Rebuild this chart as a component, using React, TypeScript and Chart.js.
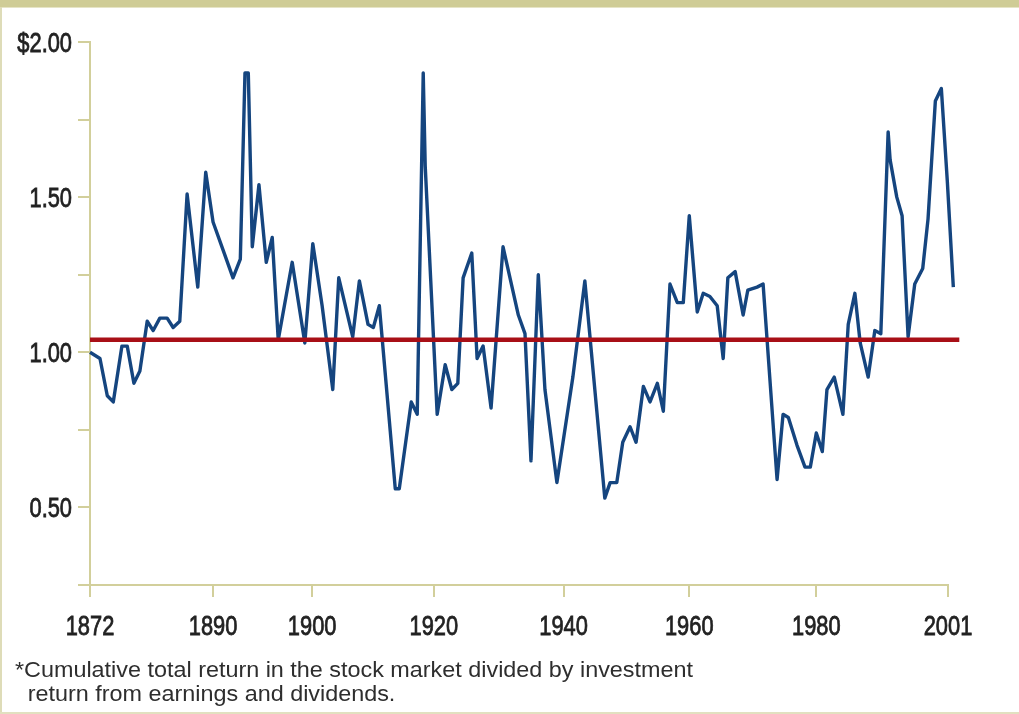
import React, { useEffect, useRef } from 'react';
import { Chart, registerables } from 'chart.js';

Chart.register(...registerables);

// Years (x) and ratio values
const years = [
  1872.0, 1873.5, 1874.6, 1875.5, 1876.8, 1877.6, 1878.6, 1879.5, 1880.6, 1881.5,
  1882.5, 1883.6, 1884.5, 1885.5, 1886.6, 1888.2, 1889.4, 1890.5, 1892.0, 1893.5,
  1894.6, 1895.3, 1895.8, 1896.4, 1897.4, 1898.5, 1899.4, 1900.3, 1902.4, 1904.3,
  1905.5, 1906.9, 1908.5, 1909.4, 1911.5, 1912.5, 1913.8, 1914.6, 1915.5, 1917.9,
  1918.5, 1920.3, 1921.2, 1922.1, 1922.4, 1924.2, 1925.4, 1926.4, 1927.3, 1928.1,
  1929.4, 1930.2, 1931.1, 1932.3, 1934.1, 1936.4, 1937.4, 1938.3, 1939.4, 1940.4,
  1942.2, 1944.6, 1946.4, 1949.4, 1950.2, 1951.2, 1952.1, 1953.2, 1954.1, 1955.2,
  1956.2, 1957.3, 1958.2, 1959.2, 1960.3, 1961.2, 1962.1, 1963.3, 1964.2, 1965.2,
  1966.3, 1967.2, 1967.9, 1969.0, 1970.2, 1970.9, 1972.3, 1973.2, 1975.3, 1976.2,
  1977.0, 1978.3, 1979.5, 1980.3, 1981.2, 1982.1, 1982.8, 1983.9, 1985.2, 1986.0,
  1987.0, 1987.8, 1989.0, 1990.0, 1990.9, 1992.0, 1992.3, 1993.3, 1994.1, 1995.0,
  1996.0, 1997.2, 1998.0, 1999.1, 2000.0, 2000.9, 2001.8,
];

const ratioValues = [
  1.00, 0.98, 0.86, 0.84, 1.02, 1.02, 0.90, 0.94, 1.10, 1.07,
  1.11, 1.11, 1.08, 1.10, 1.51, 1.21, 1.58, 1.42, 1.33, 1.24,
  1.30, 1.90, 1.90, 1.34, 1.54, 1.29, 1.37, 1.04, 1.29, 1.03,
  1.35, 1.15, 0.88, 1.24, 1.05, 1.23, 1.09, 1.08, 1.15, 0.56,
  0.56, 0.84, 0.80, 1.90, 1.60, 0.80, 0.96, 0.88, 0.90, 1.24,
  1.32, 0.98, 1.02, 0.82, 1.34, 1.12, 1.06, 0.65, 1.25, 0.88,
  0.58, 0.92, 1.23, 0.53, 0.58, 0.58, 0.71, 0.76, 0.71, 0.89,
  0.84, 0.90, 0.81, 1.22, 1.16, 1.16, 1.44, 1.13, 1.19, 1.18,
  1.15, 0.98, 1.24, 1.26, 1.12, 1.20, 1.21, 1.22, 0.59, 0.80,
  0.79, 0.70, 0.63, 0.63, 0.74, 0.68, 0.88, 0.92, 0.80, 1.09,
  1.19, 1.03, 0.92, 1.07, 1.06, 1.71, 1.62, 1.50, 1.44, 1.05,
  1.22, 1.27, 1.43, 1.81, 1.85, 1.55, 1.21,
];

// Long-run average (red line)
const averageLevel = 1.04;
const averageSpan = [1872, 2002.7];

// X-axis ticks as placed in the reference
const xTickValues = [1872, 1890.5, 1905.4, 1923.7, 1943.2, 1962.1, 1981.2, 2001];
const xTickLabels = ['1872', '1890', '1900', '1920', '1940', '1960', '1980', '2001'];

// Y-axis ticks
const yTickValues = [0.25, 0.5, 0.75, 1.0, 1.25, 1.5, 1.75, 2.0];
const yTickLabels = ['', '0.50', '', '1.00', '', '1.50', '', '$2.00'];

const footnoteLines = [
  '*Cumulative total return in the stock market divided by investment',
  'return from earnings and dividends.',
];

const FONT = "'Liberation Sans', Arial, sans-serif";
const OLIVE = '#d2cf9b';
const TEXT = '#222222';
const LABEL_SCALE = 0.78;
const FOOTNOTE_WIDTH = 678;

// Axis labels drawn through the scales, with a narrow (condensed) face
const condensedLabels = {
  id: 'condensedLabels',
  afterDraw(chart: any) {
    const { ctx } = chart;
    const xs = chart.scales.x;
    const ys = chart.scales.y;
    const draw = (text: string, x: number, y: number) => {
      ctx.save();
      ctx.translate(x, y);
      ctx.scale(LABEL_SCALE, 1);
      ctx.fillText(text, 0, 0);
      ctx.strokeText(text, 0, 0);
      ctx.restore();
    };
    ctx.save();
    ctx.fillStyle = TEXT;
    ctx.strokeStyle = TEXT;
    ctx.lineWidth = 0.8;
    ctx.font = `28px ${FONT}`;
    ctx.textBaseline = 'alphabetic';
    ctx.textAlign = 'center';
    xTickValues.forEach((v, i) => draw(xTickLabels[i], xs.getPixelForValue(v), xs.top + 50));
    ctx.textAlign = 'right';
    yTickValues.forEach((v, i) => {
      if (yTickLabels[i]) draw(yTickLabels[i], ys.right - 18, ys.getPixelForValue(v) + 10);
    });
    ctx.restore();
  },
};

function footnoteScale(): number {
  try {
    const c = document.createElement('canvas').getContext('2d');
    if (!c) return 0.85;
    c.font = `22px ${FONT}`;
    const w = c.measureText(footnoteLines[0]).width;
    return w > 0 ? FOOTNOTE_WIDTH / w : 0.85;
  } catch {
    return 0.85;
  }
}

export default function App() {
  const canvasRef = useRef<HTMLCanvasElement>(null);
  const k = footnoteScale();

  useEffect(() => {
    if (!canvasRef.current) return;
    const chart = new Chart(canvasRef.current, {
      type: 'line',
      data: {
        datasets: [
          {
            label: 'Average',
            data: averageSpan.map((x) => ({ x, y: averageLevel })),
            borderColor: '#a80f16',
            borderWidth: 4.5,
            pointRadius: 0,
            clip: false as any,
          },
          {
            label: 'Ratio',
            data: years.map((x, i) => ({ x, y: ratioValues[i] })),
            borderColor: '#15457f',
            borderWidth: 3.4,
            pointRadius: 0,
            tension: 0,
            borderJoinStyle: 'round',
            clip: false as any,
          },
        ],
      },
      options: {
        animation: false,
        responsive: false,
        devicePixelRatio: 1,
        layout: { padding: { top: 42, right: 71, bottom: 0, left: 0 } },
        plugins: { legend: { display: false }, tooltip: { enabled: false } },
        scales: {
          x: {
            type: 'linear',
            min: 1872,
            max: 2001,
            afterBuildTicks: (s: any) => {
              s.ticks = xTickValues.map((v) => ({ value: v }));
            },
            afterFit: (s: any) => {
              s.height = 129;
            },
            ticks: { display: false },
            grid: { drawOnChartArea: false, drawTicks: true, tickLength: 12, color: OLIVE, lineWidth: 2 },
            border: { display: true, color: OLIVE, width: 2 },
          },
          y: {
            type: 'linear',
            min: 0.25,
            max: 2.0,
            afterBuildTicks: (s: any) => {
              s.ticks = yTickValues.map((v) => ({ value: v }));
            },
            afterFit: (s: any) => {
              s.width = 90;
            },
            ticks: { display: false },
            grid: { drawOnChartArea: false, drawTicks: true, tickLength: 12, color: OLIVE, lineWidth: 2 },
            border: { display: true, color: OLIVE, width: 2 },
          },
        },
      },
      plugins: [condensedLabels],
    });
    return () => chart.destroy();
  }, []);

  return (
    <div style={{ position: 'fixed', left: 0, top: 0, width: 1019, height: 714, background: '#ffffff', overflow: 'hidden' }}>
      <div style={{ position: 'absolute', left: 0, top: 0, width: 1019, height: 7, background: '#cfcc96' }} />
      <div style={{ position: 'absolute', left: 0, top: 7, width: 1019, height: 1, background: '#e6e4c6' }} />
      <div style={{ position: 'absolute', left: 0, top: 7, width: 2, height: 707, background: '#dedcb8' }} />
      <div style={{ position: 'absolute', left: 0, top: 712, width: 1019, height: 2, background: '#e2e0c0' }} />
      <canvas ref={canvasRef} width={1019} height={714} style={{ position: 'absolute', left: 0, top: 0, width: 1019, height: 714 }} />
      <div
        style={{
          position: 'absolute',
          left: 15,
          top: 658,
          fontFamily: FONT,
          fontSize: 22,
          lineHeight: '24px',
          color: '#2e2e2e',
          whiteSpace: 'nowrap',
          transform: `scaleX(${k})`,
          transformOrigin: 'left top',
        }}
      >
        <div>{footnoteLines[0]}</div>
        <div style={{ paddingLeft: 12 }}>{footnoteLines[1]}</div>
      </div>
    </div>
  );
}
